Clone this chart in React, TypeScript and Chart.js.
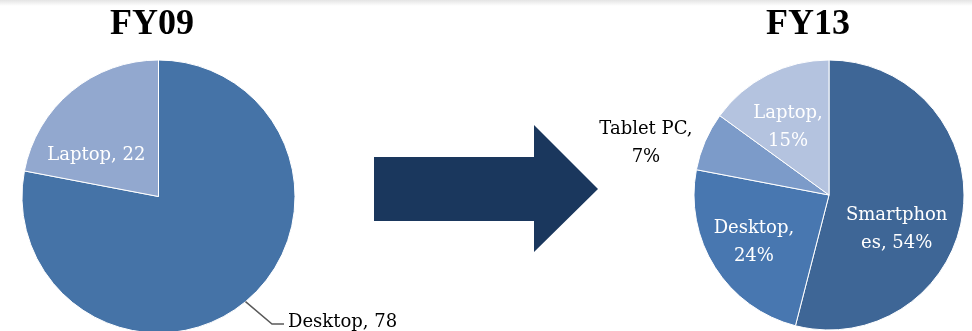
import React, { useEffect, useRef } from "react";
import { Chart, registerables } from "chart.js";

Chart.register(...registerables);

// ---- Data ----
const fy09Categories = ["Desktop", "Laptop"];
const fy09Values = [78, 22];
const fy13Categories = ["Smartphones", "Desktop", "Tablet PC", "Laptop"];
const fy13Values = [54, 24, 7, 15];
const chartTitles = ["FY09", "FY13"];

// ---- Styles ----
const fy09Colors = ["#4573a7", "#92a8cf"];
const fy13Colors = ["#3e6696", "#4877b0", "#7c9bc9", "#b4c3df"];
const LABEL_FONT_SIZE = 18;
const LABEL_FONT = `${LABEL_FONT_SIZE}px "DejaVu Serif", serif`;
const LINE_GAP = 28;

type LabelSpec = {
  inside: boolean;
  frac: number;
  dx: number;
  dy: number;
  leader?: { ex: number; ey: number; hx: number };
};

const fy09LabelSpecs: LabelSpec[] = [
  { inside: false, frac: 1, dx: 0, dy: 0, leader: { ex: 26.5, ey: 22.3, hx: 12 } },
  { inside: true, frac: 0.6, dx: -10, dy: 20 },
];
const fy13LabelSpecs: LabelSpec[] = [
  { inside: true, frac: 0.55, dx: -6, dy: 23 },
  { inside: true, frac: 0.65, dx: -1, dy: -2 },
  { inside: false, frac: 1.3, dx: -22, dy: 16 },
  { inside: true, frac: 0.62, dx: -3, dy: 5 },
];

function wrapText(ctx: CanvasRenderingContext2D, text: string, maxW: number): string[] {
  const words = text.split(" ");
  const lines: string[] = [];
  let cur = "";
  for (const w of words) {
    const test = cur ? cur + " " + w : w;
    if (ctx.measureText(test).width <= maxW) {
      cur = test;
      continue;
    }
    if (cur) {
      lines.push(cur);
      cur = "";
    }
    let word = w;
    while (ctx.measureText(word).width > maxW && word.length > 1) {
      let i = word.length;
      while (i > 1 && ctx.measureText(word.slice(0, i)).width > maxW) i--;
      lines.push(word.slice(0, i));
      word = word.slice(i);
    }
    cur = word;
  }
  if (cur) lines.push(cur);
  return lines;
}

function makeLabelPlugin(specs: LabelSpec[], suffix: string, wrapWidth: number | null) {
  return {
    id: "sliceLabels",
    afterDatasetsDraw(chart: any) {
      const ctx: CanvasRenderingContext2D = chart.ctx;
      const meta = chart.getDatasetMeta(0);
      const cats = chart.data.labels as string[];
      const vals = chart.data.datasets[0].data as number[];
      const capH = LABEL_FONT_SIZE * 0.73;
      meta.data.forEach((arc: any, i: number) => {
        const p = arc.getProps(["x", "y", "startAngle", "endAngle", "outerRadius"], true);
        const mid = (p.startAngle + p.endAngle) / 2;
        const spec = specs[i];
        const text = `${cats[i]}, ${vals[i]}${suffix}`;
        ctx.save();
        ctx.font = LABEL_FONT;
        ctx.fillStyle = spec.inside ? "#ffffff" : "#000000";
        if (spec.leader) {
          const sx = p.x + p.outerRadius * Math.cos(mid);
          const sy = p.y + p.outerRadius * Math.sin(mid);
          const exx = sx + spec.leader.ex;
          const eyy = sy + spec.leader.ey;
          const hx = exx + spec.leader.hx;
          ctx.strokeStyle = "#595959";
          ctx.lineWidth = 1.5;
          ctx.beginPath();
          ctx.moveTo(sx, sy);
          ctx.lineTo(exx, eyy);
          ctx.lineTo(hx, eyy);
          ctx.stroke();
          ctx.textAlign = "left";
          ctx.textBaseline = "alphabetic";
          ctx.fillText(text, hx + 4, eyy - 4 + capH / 2);
        } else {
          const d = p.outerRadius * spec.frac;
          const cx = p.x + d * Math.cos(mid) + spec.dx;
          const cy = p.y + d * Math.sin(mid) + spec.dy;
          const lines = wrapWidth ? wrapText(ctx, text, wrapWidth) : [text];
          ctx.textAlign = "center";
          ctx.textBaseline = "alphabetic";
          const first = cy - ((lines.length - 1) * LINE_GAP) / 2 + capH / 2;
          lines.forEach((ln, k) => ctx.fillText(ln, cx, first + k * LINE_GAP));
        }
        ctx.restore();
      });
    },
  };
}

function PieCanvas(props: {
  left: number;
  width: number;
  height: number;
  padding: { left: number; right: number; top: number; bottom: number };
  radius: number;
  labels: string[];
  values: number[];
  colors: string[];
  specs: LabelSpec[];
  suffix: string;
  wrapWidth: number | null;
}) {
  const ref = useRef<HTMLCanvasElement | null>(null);
  useEffect(() => {
    if (!ref.current) return;
    const chart = new Chart(ref.current, {
      type: "pie",
      data: {
        labels: props.labels,
        datasets: [
          {
            data: props.values,
            backgroundColor: props.colors,
            borderColor: "#ffffff",
            borderWidth: 1,
            radius: props.radius,
          } as any,
        ],
      },
      options: {
        animation: false,
        responsive: false,
        maintainAspectRatio: false,
        events: [],
        layout: { padding: props.padding },
        plugins: {
          legend: { display: false },
          title: { display: false },
          tooltip: { enabled: false },
        },
      },
      plugins: [makeLabelPlugin(props.specs, props.suffix, props.wrapWidth)],
    });
    return () => chart.destroy();
  }, []);
  return (
    <canvas
      ref={ref}
      width={props.width}
      height={props.height}
      style={{ position: "absolute", left: props.left, top: 0, width: props.width, height: props.height }}
    />
  );
}

const titleStyle: React.CSSProperties = {
  position: "absolute",
  top: 4,
  width: 200,
  textAlign: "center",
  fontFamily: '"Liberation Serif", serif',
  fontWeight: "bold",
  fontSize: 36,
  lineHeight: "36px",
  color: "#000",
};

export default function App() {
  return (
    <div
      style={{
        position: "fixed",
        left: 0,
        top: 0,
        width: 972,
        height: 331,
        overflow: "hidden",
        background: "#ffffff",
      }}
    >
      <div
        style={{
          position: "absolute",
          left: 0,
          top: 0,
          width: 972,
          height: 6,
          background: "linear-gradient(#e4e4e4, #ffffff)",
        }}
      />
      <PieCanvas
        left={0}
        width={420}
        height={400}
        padding={{ left: 0, right: 103, top: 0, bottom: 7 }}
        radius={136.5}
        labels={fy09Categories}
        values={fy09Values}
        colors={fy09Colors}
        specs={fy09LabelSpecs}
        suffix=""
        wrapWidth={null}
      />
      <PieCanvas
        left={580}
        width={392}
        height={400}
        padding={{ left: 106, right: 0, top: 0, bottom: 10 }}
        radius={135}
        labels={fy13Categories}
        values={fy13Values}
        colors={fy13Colors}
        specs={fy13LabelSpecs}
        suffix="%"
        wrapWidth={108}
      />
      <svg
        width={972}
        height={331}
        style={{ position: "absolute", left: 0, top: 0, pointerEvents: "none" }}
      >
        <polygon
          points="374,157 534,157 534,125 598,189 534,252 534,221 374,221"
          fill="#1a375d"
        />
      </svg>
      <div style={{ ...titleStyle, left: 152 - 100 }}>{chartTitles[0]}</div>
      <div style={{ ...titleStyle, left: 808 - 100 }}>{chartTitles[1]}</div>
    </div>
  );
}
